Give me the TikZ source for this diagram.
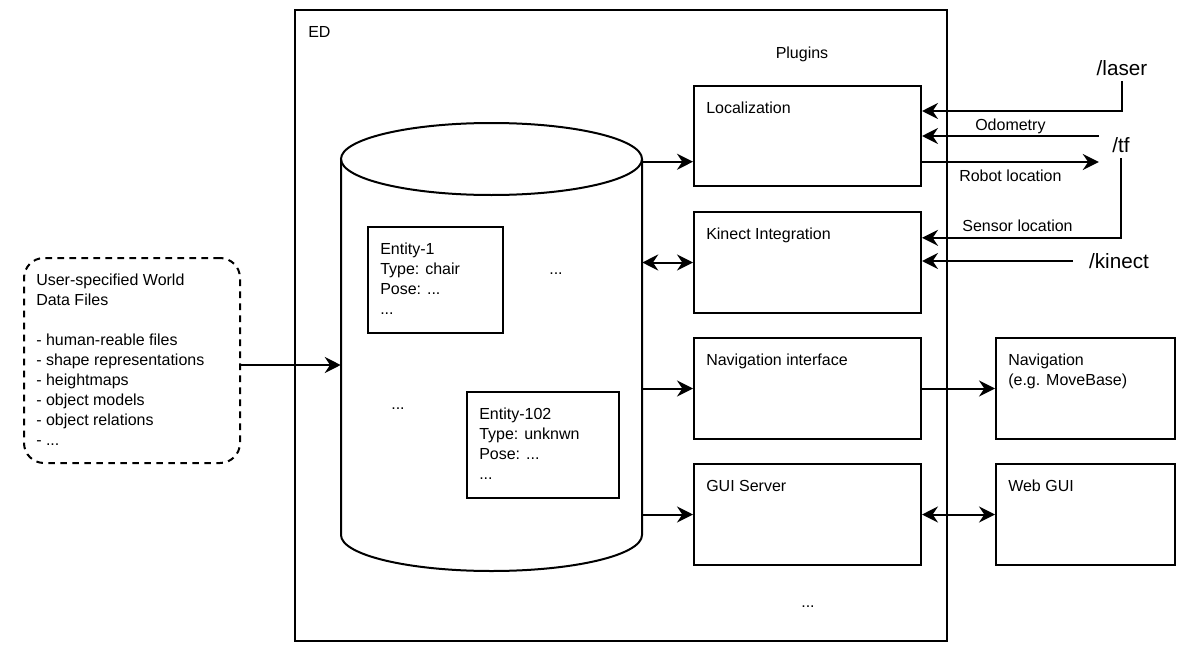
\documentclass[tikz,border=0pt]{standalone}
\usepackage{fontspec}
\setmainfont{Liberation Sans}
\usetikzlibrary{arrows.meta,fit}

\begin{document}
\begin{tikzpicture}[
        x=0.75pt, y=-0.75pt,
        every node/.style={font=\fontsize{12}{15}\selectfont, inner sep=0pt},
        box/.style={draw, line width=1.5pt, fit={#1}},
        tag/.style={anchor=north west, align=left, xshift=9.75pt, yshift=-12.5pt},
        topic/.style={font=\fontsize{15.5}{18}\selectfont},
        conn/.style={draw, line width=1.5pt, -{Stealth[length=12pt,width=12pt,inset=4pt]}},
        both/.style={conn, {Stealth[length=12pt,width=12pt,inset=4pt]}-{Stealth[length=12pt,width=12pt,inset=4pt]}}
    ]
 \useasboundingbox (0,0) rectangle (1182,653);
 % world model
 \node[box={(295,10) (947,641)}] (ed) {};
 \node[anchor=west] (edT) at (308,32) {ED};
 \node (plugT) at (802,54) {Plugins};
 \node (moreP) at (808,607) {...};
 % database
 \draw[line width=1.5pt] (341,159) -- (341,535) arc[start angle=180, end angle=360, x radius=112.875pt, y radius=27pt] -- (642,159);
 \draw[line width=1.5pt] (491.5,159) ellipse [x radius=112.875pt, y radius=27pt];
 \node[fit={(341,162) (642,568)}] (db) {};
 \node[box={(368,227) (503,333)}, label={[tag]north west:Entity-1\\Type: chair\\Pose: ...\\...}] (ent1) {};
 \node[box={(467,392) (619,498)}, label={[tag]north west:Entity-102\\Type: unknwn\\Pose: ...\\...}] (ent2) {};
 \node (moreA) at (556,274) {...};
 \node (moreB) at (398,409) {...};
 % plugins
 \node[box={(694,86) (921,186)}, label={[tag]north west:Localization}] (loc) {};
 \node[box={(694,212) (921,313)}, label={[tag]north west:Kinect Integration}] (kin) {};
 \node[box={(694,338) (921,439)}, label={[tag]north west:Navigation interface}] (nav) {};
 \node[box={(694,464) (921,565)}, label={[tag]north west:GUI Server}] (gui) {};
 % outside
 \node[box={(996,338) (1175,439)}, label={[tag]north west:Navigation\\(e.g. MoveBase)}] (navi) {};
 \node[box={(996,464) (1175,565)}, label={[tag]north west:Web GUI}] (web) {};
 \node[box={(24,258) (240,463)}, dashed, dash pattern=on 5pt off 4pt, rounded corners=15pt,
       label={[tag]north west:User-specified World\\Data Files\\[15pt]- human-reable files\\- shape representations\\- heightmaps\\- object models\\- object relations\\- ...}] (files) {};
 \node[topic, inner sep=4pt] (laser) at (1122,68) {/laser};
 \node[topic, inner xsep=10pt, inner ysep=4pt] (tf) at (1121,145) {/tf};
 \node[topic] (kinect) at (1119,261) {/kinect};
 \coordinate (lasIn) at ([yshift=-19.5pt]loc.north east);
 \coordinate (robOut) at ([yshift=-19.5pt]loc.east);
 \coordinate (senIn) at ([yshift=18.5pt]kin.east);

 \draw[conn] (files.east |- db.west) -- (db.west);
 \draw[conn] (db.north east) -- (db.north east -| loc.west);
 \draw[both] (db.east |- kin.west) -- (kin.west);
 \draw[conn] (db.east |- nav.west) -- (nav.west);
 \draw[conn] (db.east |- gui.west) -- (gui.west);
 \draw[conn] (nav.east) -- (navi.west);
 \draw[both] (gui.east) -- (web.west);
 \draw[conn] (laser.south) |- (lasIn);
 \draw[conn] (tf.west |- loc.east) -- node[above=1pt] (odoT) {Odometry} (loc.east);
 \draw[conn] (robOut) -- node[below=5pt] (robT) {Robot location} (robOut -| tf.west);
 \draw[conn] (tf.south) |- node[pos=0.76, above=4pt] (senT) {Sensor location} (senIn);
 \draw[conn] ([xshift=-12pt]kinect.west) -- (kinect.west -| kin.east);
\end{tikzpicture}
\end{document}
